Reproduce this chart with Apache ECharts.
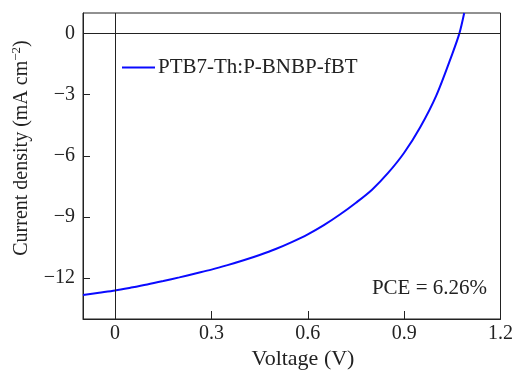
<!DOCTYPE html>
<html>
<head>
<meta charset="utf-8">
<script src="https://cdn.jsdelivr.net/npm/echarts@6/dist/echarts.min.js"></script>
<style>
  html, body { margin: 0; padding: 0; background: #fff; }
  #container { width: 516px; height: 370px; }
</style>
</head>
<body>
<div id="container"></div>
<script>
const voltage = [-0.1, -0.05, 0, 0.05, 0.1, 0.15, 0.2, 0.25, 0.3, 0.35, 0.4, 0.45, 0.5, 0.55, 0.6, 0.65, 0.7, 0.75, 0.8, 0.85, 0.9, 0.95, 1.0, 1.05, 1.072, 1.087]
const current = [-12.82, -12.71, -12.6, -12.46, -12.31, -12.14, -11.96, -11.77, -11.58, -11.36, -11.12, -10.86, -10.57, -10.23, -9.85, -9.4, -8.88, -8.3, -7.66, -6.84, -5.85, -4.6, -3.05, -1.0, 0.0, 1.0]
const xTicks = [0, 0.3, 0.6, 0.9, 1.2]
const yTicks = [-12, -9, -6, -3, 0]
const seriesName = 'PTB7-Th:P-BNBP-fBT'

const font = 'Liberation Serif'
const ink = '#222'

const dom = document.getElementById('container')
const myChart = echarts.init(dom)

const option = {
    backgroundColor: '#fff',
    animation: false,
    grid: {
        left: 83,
        right: 15,
        top: 13,
        bottom: 51,
        show: true,
        borderColor: ink,
        borderWidth: 1
    },
    legend: {
        data: [{ name: seriesName, icon: 'rect' }],
        left: 122,
        top: 57,
        padding: 0,
        itemWidth: 33,
        itemHeight: 2,
        textStyle: {
            fontFamily: font,
            fontSize: 21,
            color: ink,
            padding: [0, 0, 0, -2]
        }
    },
    xAxis: {
        type: 'value',
        min: -0.1,
        max: 1.2,
        axisLine: { show: true, onZero: false, lineStyle: { color: ink } },
        axisTick: { show: true, inside: true, length: 8, customValues: xTicks, lineStyle: { color: ink } },
        axisLabel: {
            customValues: xTicks,
            margin: 5,
            fontFamily: font,
            fontSize: 20,
            color: ink
        },
        splitLine: { show: false }
    },
    yAxis: {
        type: 'value',
        min: -14,
        max: 1,
        axisLine: { show: true, onZero: false, lineStyle: { color: ink } },
        axisTick: { show: true, inside: true, length: 7, customValues: yTicks, lineStyle: { color: ink } },
        axisLabel: {
            customValues: yTicks,
            margin: 8,
            fontFamily: font,
            fontSize: 20,
            color: ink,
            formatter: v => String(v).replace('-', '\u2212')
        },
        splitLine: { show: false }
    },
    graphic: [
        {
            type: 'text',
            x: 303,
            y: 359,
            style: {
                text: 'Voltage (V)',
                textAlign: 'center',
                textVerticalAlign: 'middle',
                fontFamily: font,
                fontSize: 22,
                fill: ink
            }
        },
        {
            type: 'text',
            x: 22,
            y: 148,
            rotation: Math.PI / 2,
            style: {
                text: '{n|Current density (mA cm}{s|\u22122}{n|)}',
                textAlign: 'center',
                textVerticalAlign: 'middle',
                rich: {
                    n: { fontFamily: font, fontSize: 20, fill: ink },
                    s: { fontFamily: font, fontSize: 13, fill: ink, verticalAlign: 'top', padding: [0, 0, 10, 0] }
                }
            }
        },
        {
            type: 'text',
            x: 487,
            y: 288,
            style: {
                text: 'PCE = 6.26%',
                textAlign: 'right',
                textVerticalAlign: 'middle',
                fontFamily: font,
                fontSize: 21,
                fill: ink
            }
        }
    ],
    series: [
        {
            name: seriesName,
            type: 'line',
            data: voltage.map((v, i) => [v, current[i]]),
            smooth: 0.3,
            symbol: 'none',
            lineStyle: { color: '#0a0aff', width: 2 },
            itemStyle: { color: '#0a0aff' },
            markLine: {
                silent: true,
                symbol: 'none',
                label: { show: false },
                lineStyle: { color: ink, width: 1, type: 'solid' },
                data: [{ yAxis: 0 }, { xAxis: 0 }]
            }
        }
    ]
}

myChart.setOption(option)
</script>
</body>
</html>
